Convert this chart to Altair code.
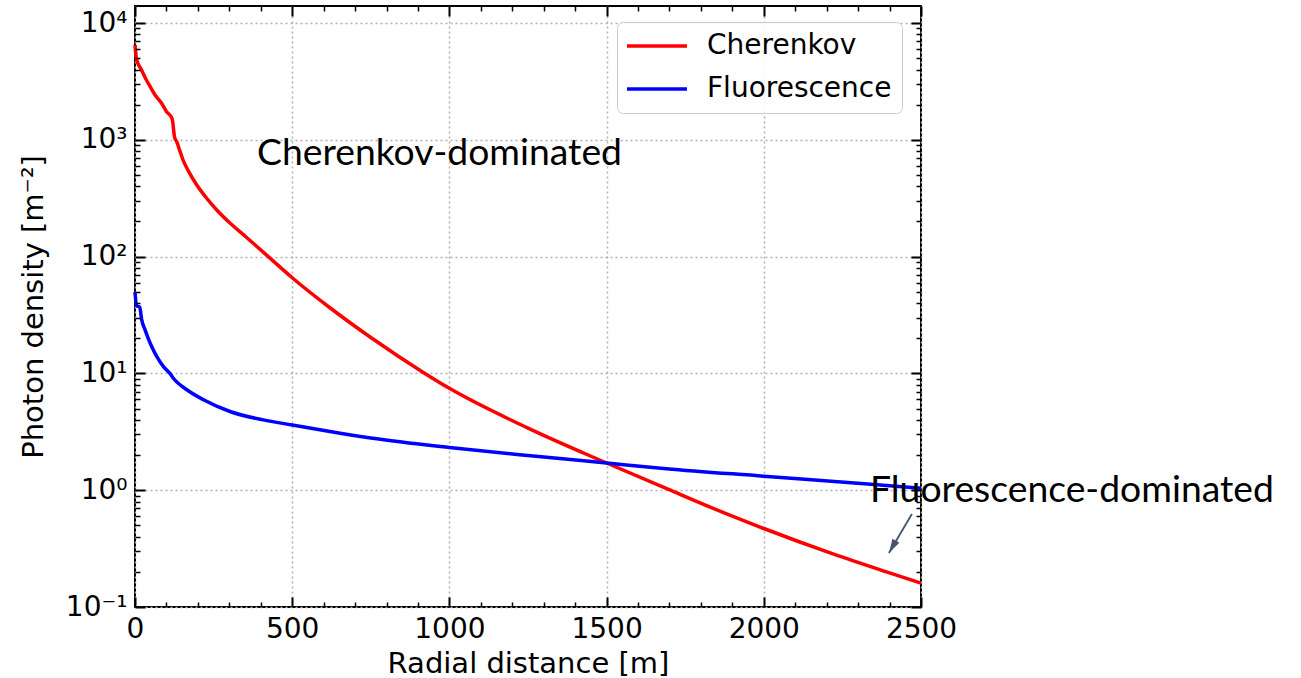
import altair as alt
import pandas as pd

series_names = ["Cherenkov", "Fluorescence"]
series_colors = ["#ff0000", "#0000ff"]

# Cherenkov photon density
cher_x = [0, 5, 20, 35, 50, 65, 85, 100, 118, 126, 133, 143, 154, 170, 196, 228,
          260, 302, 355, 424, 500, 620, 750, 917, 1000, 1250, 1500, 1695, 1880,
          2000, 2220, 2390, 2500]
cher_y = [6500, 4900, 4000, 3300, 2800, 2400, 2050, 1750, 1520, 1050, 960, 800,
          660, 540, 413, 316, 251, 194, 146, 100, 66, 36.5, 20.3, 10.2, 7.45, 3.4,
          1.71, 1.02, 0.63, 0.47, 0.285, 0.20, 0.16]

# Fluorescence photon density
fluo_x = [0, 5, 15, 21, 32, 42, 53, 69, 90, 111, 122, 165, 218, 302, 408, 500,
          620, 750, 1000, 1250, 1500, 1690, 2000, 2330, 2500]
fluo_y = [50, 38, 37, 29, 23.6, 20, 17, 14, 11.5, 10, 9.1, 7.25, 5.95, 4.72,
          4.0, 3.62, 3.18, 2.8, 2.32, 1.98, 1.71, 1.53, 1.32, 1.13, 1.04]

x_major = [0, 500, 1000, 1500, 2000, 2500]
x_minor = [100, 200, 300, 400, 600, 700, 800, 900, 1100, 1200, 1300, 1400,
           1600, 1700, 1800, 1900, 2100, 2200, 2300, 2400]
y_major = [0.1, 1, 10, 100, 1000, 10000]
y_major_labels = ["10⁻¹", "10⁰", "10¹", "10²", "10³", "10⁴"]
y_minor = [0.2, 0.3, 0.4, 0.5, 0.6, 0.7, 0.8, 0.9,
           2, 3, 4, 5, 6, 7, 8, 9,
           20, 30, 40, 50, 60, 70, 80, 90,
           200, 300, 400, 500, 600, 700, 800, 900,
           2000, 3000, 4000, 5000, 6000, 7000, 8000, 9000]

ann_text = ["Cherenkov-dominated", "Fluorescence-dominated"]
ann_x = [388, 2338]
ann_y = [612, 0.794]

arrow_x = [2471]
arrow_y = [0.625]
arrow_x2 = [2398]
arrow_y2 = [0.29]

rows = []
for xv, yv in zip(cher_x, cher_y):
    rows.append({"r": xv, "density": yv, "series": series_names[0]})
for xv, yv in zip(fluo_x, fluo_y):
    rows.append({"r": xv, "density": yv, "series": series_names[1]})
df = pd.DataFrame(rows)

ann_df = pd.DataFrame({"label": ann_text, "ax": ann_x, "ay": ann_y})
arr_df = pd.DataFrame({"ax": arrow_x, "ay": arrow_y, "ax2": arrow_x2, "ay2": arrow_y2})

# label expression for y axis
expr = "''"
for v, lab in reversed(list(zip(y_major, y_major_labels))):
    expr = f"(abs(log(datum.value) - log({v})) < 0.01 ? '{lab}' : {expr})"

xs = alt.Scale(domain=[0, 2500], nice=False, zero=False)
ys = alt.Scale(type="log", domain=[0.1, 14000], nice=False)

grid_kw = dict(grid=True, gridDash=[2, 3], gridColor="#b0b0b0", gridWidth=1.5)

lines = alt.Chart(df).mark_line(strokeWidth=3.5, interpolate="monotone").encode(
    x=alt.X("r:Q", scale=xs, axis=alt.Axis(
        orient="bottom", values=x_major, title="Radial distance [m]", format="d",
        tickSize=10, tickWidth=2, offset=-10, labelPadding=8, titlePadding=6,
        **grid_kw)),
    y=alt.Y("density:Q", scale=ys, axis=alt.Axis(
        orient="left", values=y_major, labelExpr=expr,
        title="Photon density [m⁻²]",
        tickSize=10, tickWidth=2, offset=-10, labelPadding=8, titlePadding=17,
        **grid_kw)),
    color=alt.Color("series:N", scale=alt.Scale(domain=series_names, range=series_colors),
                    legend=alt.Legend(title=None, orient="none", legendX=482, legendY=16,
                                      symbolType="M-2.8,0H9.2", symbolSize=100,
                                      symbolStrokeWidth=3.5, labelFontSize=28,
                                      labelFont="DejaVu Sans", labelColor="black",
                                      labelLimit=500,
                                      padding=10, fillColor="rgba(255,255,255,0.85)",
                                      strokeColor="#cccccc", cornerRadius=6,
                                      rowPadding=15, labelOffset=52)),
    detail="series:N",
)

inv = alt.Chart(df).mark_point(opacity=0, size=1)


def tick_axis(orient, values, size, width):
    return alt.Axis(orient=orient, values=values, labels=False, grid=False, title=None,
                    tickSize=size, tickWidth=width, offset=-size, zindex=1)


minor_bl = inv.encode(
    x=alt.X("r:Q", scale=xs, axis=tick_axis("bottom", x_minor, 5, 1.5)),
    y=alt.Y("density:Q", scale=ys, axis=tick_axis("left", y_minor, 5, 1.5)),
)
major_tr = inv.encode(
    x=alt.X("r:Q", scale=xs, axis=tick_axis("top", x_major, 10, 2)),
    y=alt.Y("density:Q", scale=ys, axis=tick_axis("right", y_major, 10, 2)),
)
minor_tr = inv.encode(
    x=alt.X("r:Q", scale=xs, axis=tick_axis("top", x_minor, 5, 1.5)),
    y=alt.Y("density:Q", scale=ys, axis=tick_axis("right", y_minor, 5, 1.5)),
)

text = alt.Chart(ann_df).mark_text(align="left", baseline="alphabetic", font="Lato",
                                    fontSize=37.3, color="black").encode(
    x=alt.X("ax:Q", scale=xs, axis=None),
    y=alt.Y("ay:Q", scale=ys, axis=None),
    text="label:N",
)

arrow_color = "#46556b"
arrow_line = alt.Chart(arr_df).mark_rule(color=arrow_color, strokeWidth=1.8).encode(
    x=alt.X("ax:Q", scale=xs, axis=None),
    y=alt.Y("ay:Q", scale=ys, axis=None),
    x2="ax2:Q",
    y2="ay2:Q",
)
arrow_head = alt.Chart(arr_df).mark_point(shape="M0,0L-0.4,1.4L0.4,1.4Z", filled=True,
                                          size=400, angle=210, color=arrow_color,
                                          opacity=1).encode(
    x=alt.X("ax2:Q", scale=xs, axis=None),
    y=alt.Y("ay2:Q", scale=ys, axis=None),
)

chart = alt.layer(lines, minor_bl, major_tr, minor_tr, text, arrow_line, arrow_head).resolve_axis(
    x="independent", y="independent"
).properties(
    width=786, height=601,
    padding={"left": 135, "top": 6, "right": 380, "bottom": 71},
    autosize=alt.AutoSizeParams(type="none"),
).configure_view(
    stroke="black", strokeWidth=2
).configure_axis(
    labelFont="DejaVu Sans", titleFont="DejaVu Sans", labelFontSize=28, titleFontSize=29,
    labelColor="black", titleColor="black", titleFontWeight="normal", tickColor="black",
    domain=False, labelFlush=False, labelOverlap=False
)

chart.save("out.html", embed_options={"renderer": "svg", "actions": False})
